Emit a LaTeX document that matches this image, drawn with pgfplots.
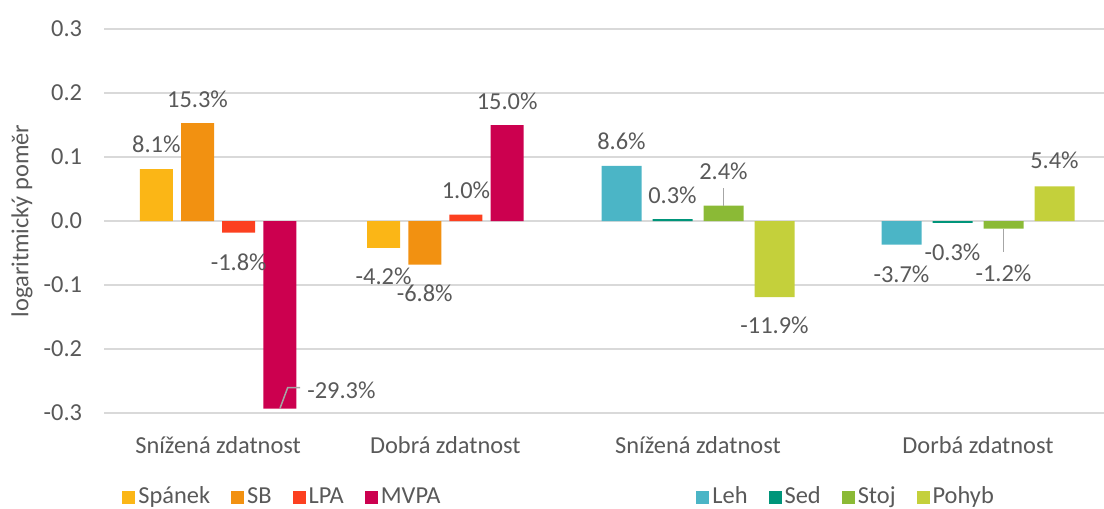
\documentclass[border=0pt]{standalone}
\usepackage{fontspec}
\setmainfont{Carlito}
\usepackage{pgfplots}
\pgfplotsset{compat=1.18}
\definecolor{txt}{HTML}{595959}
\definecolor{gridc}{HTML}{D9D9D9}
\definecolor{leadc}{HTML}{A6A6A6}
\definecolor{cspanek}{HTML}{FBB616}
\definecolor{csb}{HTML}{F29111}
\definecolor{clpa}{HTML}{FC4020}
\definecolor{cmvpa}{HTML}{CC004F}
\definecolor{cleh}{HTML}{4BB5C6}
\definecolor{csed}{HTML}{00957A}
\definecolor{cstoj}{HTML}{8BBA36}
\definecolor{cpohyb}{HTML}{C4D03B}
\newcommand{\fs}{\fontsize{12.2}{14}\selectfont}
\tikzset{leader/.style={leadc, line width=0.75pt}}
\pgfplotsset{
  base/.style={
    scale only axis, ybar, clip=false,
    ymin=-0.3, ymax=0.3, height=192pt,
    ytick={-0.3,-0.2,-0.1,0,0.1,0.2,0.3},
    ymajorgrids, grid style={gridc, line width=0.9pt},
    axis line style={draw=none}, major tick length=0pt,
    xtick={0,1},
    xticklabel style={font=\fs, text=txt, anchor=base, yshift=-20pt},
    yticklabel style={font=\fs, text=txt, anchor=east, inner sep=0pt, xshift=-11pt},
    legend image code/.code={\fill[##1] (0pt,-3.25pt) rectangle (6.5pt,3.25pt);},
    legend columns=4,
    legend style={draw=none, fill=none, inner sep=0pt, font=\fs, text=txt,
      nodes={inner sep=1.5pt}, anchor=west,
      /tikz/every even column/.append style={column sep=9pt}},
    nodes near coords={\lbl\%},
    visualization depends on={value \thisrow{lbl} \as \lbl},
    visualization depends on={\thisrow{dx} \as \mydx},
    visualization depends on={\thisrow{dy} \as \mydy},
    every node near coord/.append style={anchor=center, font=\fs, text=txt,
      xshift=\mydx pt, yshift=\mydy pt},
  },
}
\begin{document}
\begin{tikzpicture}
\path[use as bounding box] (0,0) rectangle (552pt,254.5pt);
% left chart
\begin{axis}[base,
  at={(52.25pt,48pt)}, anchor=south west, width=227.25pt,
  xmin=-0.5, xmax=1.5, bar width=16.5pt,
  xticklabels={Snížená zdatnost, Dobrá zdatnost},
  yticklabels={-0.3,-0.2,-0.1,0.0,0.1,0.2,0.3},
  ylabel={logaritmický poměr},
  every axis y label/.style={at={(axis description cs:-0.1815,0.5)}, rotate=90, anchor=center, font=\fs, text=txt},
  legend style={at={(axis description cs:0.0385,-0.21875)}},
]
\addplot[fill=cspanek, draw=none, bar shift=-30.9pt] table {
x y lbl dx dy
0 0.081 8.1 0 12.5
1 -0.042 -4.2 0 -14
};
\addplot[fill=csb, draw=none, bar shift=-10.3pt] table {
x y lbl dx dy
0 0.153 15.3 0 12
1 -0.068 -6.8 0 -14.5
};
\addplot[fill=clpa, draw=none, bar shift=10.3pt] table {
x y lbl dx dy
0 -0.018 -1.8 0 -14.75
1 0.010 1.0 0 12.3
};
\addplot[fill=cmvpa, draw=none, bar shift=30.9pt] table {
x y lbl dx dy
0 -0.293 -29.3 30.75 9.25
1 0.150 15.0 0 12
};
\legend{Spánek, SB, LPA, MVPA}
\draw[leader] ([xshift=30.9pt]axis cs:0,-0.293) -- ++(3.9pt,10.5pt) -- ++(6.2pt,0pt);
\end{axis}
% right chart
\begin{axis}[base,
  at={(279pt,48pt)}, anchor=south west, width=273pt,
  xmin=-0.5, xmax=1.45, bar width=20pt,
  xticklabels={Snížená zdatnost, Dorbá zdatnost},
  yticklabels={},
  legend style={at={(axis description cs:0.2527,-0.21875)}},
]
\addplot[fill=cleh, draw=none, bar shift=-38.25pt] table {
x y lbl dx dy
0 0.086 8.6 0 12.5
1 -0.037 -3.7 0 -15
};
\addplot[fill=csed, draw=none, bar shift=-12.75pt] table {
x y lbl dx dy
0 0.003 0.3 0 12
1 -0.003 -0.3 0 -14.8
};
\addplot[fill=cstoj, draw=none, bar shift=12.75pt] table {
x y lbl dx dy
0 0.024 2.4 0 17.3
1 -0.012 -1.2 0 -22.4
};
\addplot[fill=cpohyb, draw=none, bar shift=38.25pt] table {
x y lbl dx dy
0 -0.119 -11.9 0 -14
1 0.054 5.4 0 13
};
\legend{Leh, Sed, Stoj, Pohyb}
\draw[leader] ([xshift=12.75pt]axis cs:0,0.024) -- ++(0pt,9pt);
\draw[leader] ([xshift=12.75pt]axis cs:1,-0.012) -- ++(0pt,-11.75pt);
\end{axis}
\end{tikzpicture}
\end{document}
